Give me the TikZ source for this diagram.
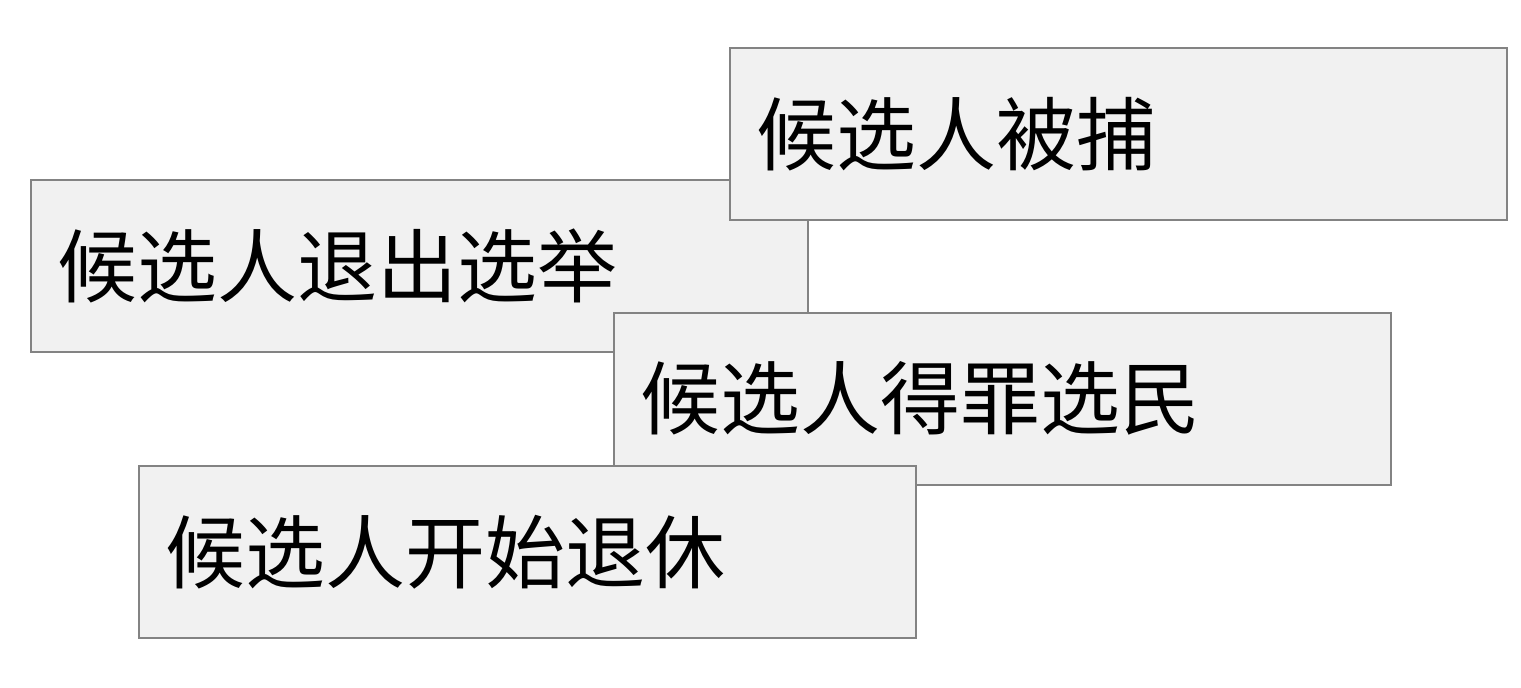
\documentclass[tikz,border=0pt]{standalone}
\usepackage{fontspec}
\newfontfamily\cjk{Noto Sans CJK SC}
\usetikzlibrary{positioning}
\definecolor{cardfill}{HTML}{F1F1F1}
\definecolor{cardline}{HTML}{838383}
\tikzset{
  card/.style={rectangle, draw=cardline, line width=1.6pt, fill=cardfill,
    anchor=north west, inner xsep=27pt, inner ysep=0pt, text width=723pt,
    minimum height=172pt, align=left, font=\cjk\fontsize{80}{90}\selectfont}
}
\begin{document}
\begin{tikzpicture}[x=1pt, y=-1pt]
    \useasboundingbox (0,0) rectangle (1521,688);

    \node [card] (quit)   at (30,179)  {候选人退出选举};
    \node [card] (arrest) at (729,47)  {候选人被捕};
    \node [card] (offend) at (613,312) {候选人得罪选民};
    \node [card] (retire) at (138,465) {候选人开始退休};
\end{tikzpicture}
\end{document}
